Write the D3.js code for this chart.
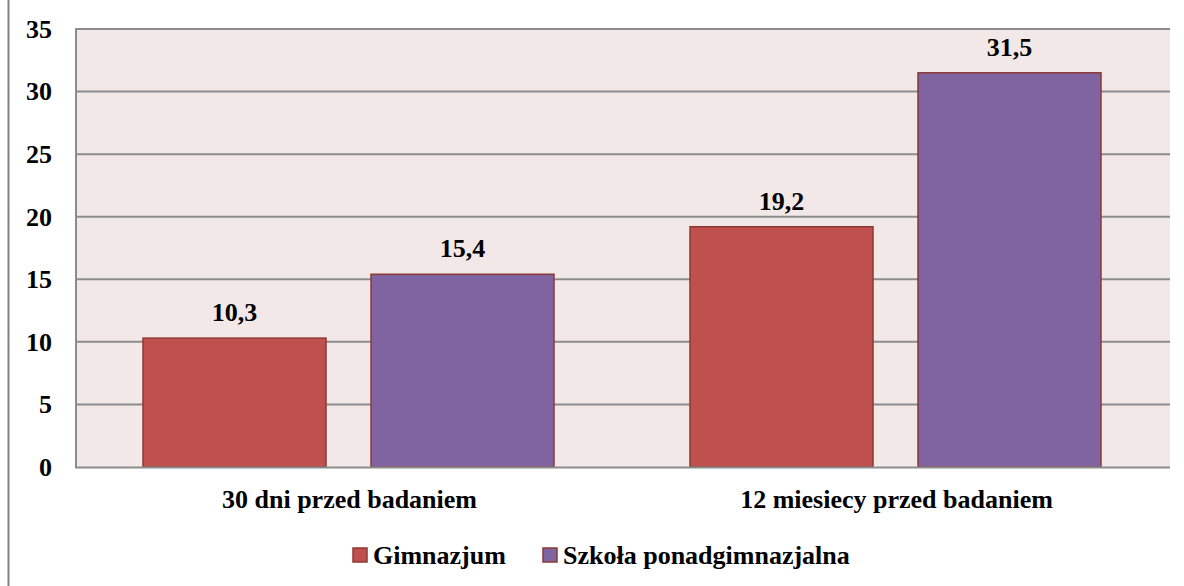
<!DOCTYPE html>
<html><head><meta charset="utf-8">
<script src="https://cdn.jsdelivr.net/npm/d3@7"></script>
</head><body style="margin:0">
<svg id="c" width="1184" height="586" style="display:block"></svg>
<script>
const categories = ["30 dni przed badaniem", "12 miesiecy przed badaniem"];
const seriesNames = ["Gimnazjum", "Szkoła ponadgimnazjalna"];
const gimnazjum = [10.3, 19.2];
const ponadgim = [15.4, 31.5];
const yTicks = [0, 5, 10, 15, 20, 25, 30, 35];
const colors = ["#c0504d", "#8064a2"];

const svg = d3.select("#c");
const L = 76, R = 1170, T = 29, B = 467;
const styleText = sel => sel.style("font-family", '"Times New Roman"')
  .style("font-weight", "bold").style("font-size", "26px");

svg.append("line").attr("x1", 8.5).attr("x2", 8.5).attr("y1", 0).attr("y2", 586)
  .attr("stroke", "#808080").attr("stroke-width", 2);

const x0 = d3.scaleBand().domain(categories).range([L, R]).paddingInner(0).paddingOuter(0);
const y = d3.scaleLinear().domain([0, 35]).range([B, T]);

svg.append("rect").attr("x", L).attr("y", T).attr("width", R - L).attr("height", B - T).attr("fill", "#f2e8e8");

svg.append("g").selectAll("line").data(yTicks.filter(d => d > 0)).join("line")
  .attr("x1", L).attr("x2", R).attr("y1", d => y(d)).attr("y2", d => y(d))
  .attr("stroke", "#8c8c8c").attr("stroke-width", 2);

svg.append("line").attr("x1", L).attr("x2", L).attr("y1", T - 1).attr("y2", B)
  .attr("stroke", "#8c8c8c").attr("stroke-width", 2);

const data = [];
categories.forEach((c, i) => {
  data.push({cat: c, s: seriesNames[0], v: gimnazjum[i], col: colors[0]});
  data.push({cat: c, s: seriesNames[1], v: ponadgim[i], col: colors[1]});
});

const bw = 183, gap = 45, off = 67;
const bx = d => x0(d.cat) + off + (d.s === seriesNames[0] ? 0 : bw + gap);

svg.append("g").selectAll("rect").data(data).join("rect")
  .attr("x", d => bx(d)).attr("y", d => y(d.v)).attr("width", bw).attr("height", d => B - y(d.v))
  .attr("fill", d => d.col).attr("stroke", "#8c3836").attr("stroke-width", 1.5);

svg.append("line").attr("x1", L - 1).attr("x2", R).attr("y1", B + 0.5).attr("y2", B + 0.5)
  .attr("stroke", "#8c8c8c").attr("stroke-width", 2);

svg.append("g").selectAll("text").data(data).join("text")
  .attr("x", d => bx(d) + bw / 2).attr("y", d => y(d.v) - 17)
  .attr("text-anchor", "middle").call(styleText).text(d => d.v.toString().replace(".", ","));

svg.append("g").selectAll("text").data(yTicks).join("text")
  .attr("x", 52).attr("y", d => y(d)).attr("dy", "0.34em")
  .attr("text-anchor", "end").call(styleText).text(d => String(d));

svg.append("g").selectAll("text").data(categories).join("text")
  .attr("x", d => x0(d) + x0.bandwidth() / 2).attr("y", 508)
  .attr("text-anchor", "middle").call(styleText).text(d => d);

const legX = [353, 543];
const lg = svg.append("g").selectAll("g").data(seriesNames).join("g");
lg.append("rect").attr("x", (d, i) => legX[i]).attr("y", 548).attr("width", 14).attr("height", 14)
  .attr("fill", (d, i) => colors[i]).attr("stroke", "#8c3836").attr("stroke-width", 1.5);
lg.append("text").attr("x", (d, i) => legX[i] + 20).attr("y", 564).call(styleText).text(d => d);
</script>
</body></html>
